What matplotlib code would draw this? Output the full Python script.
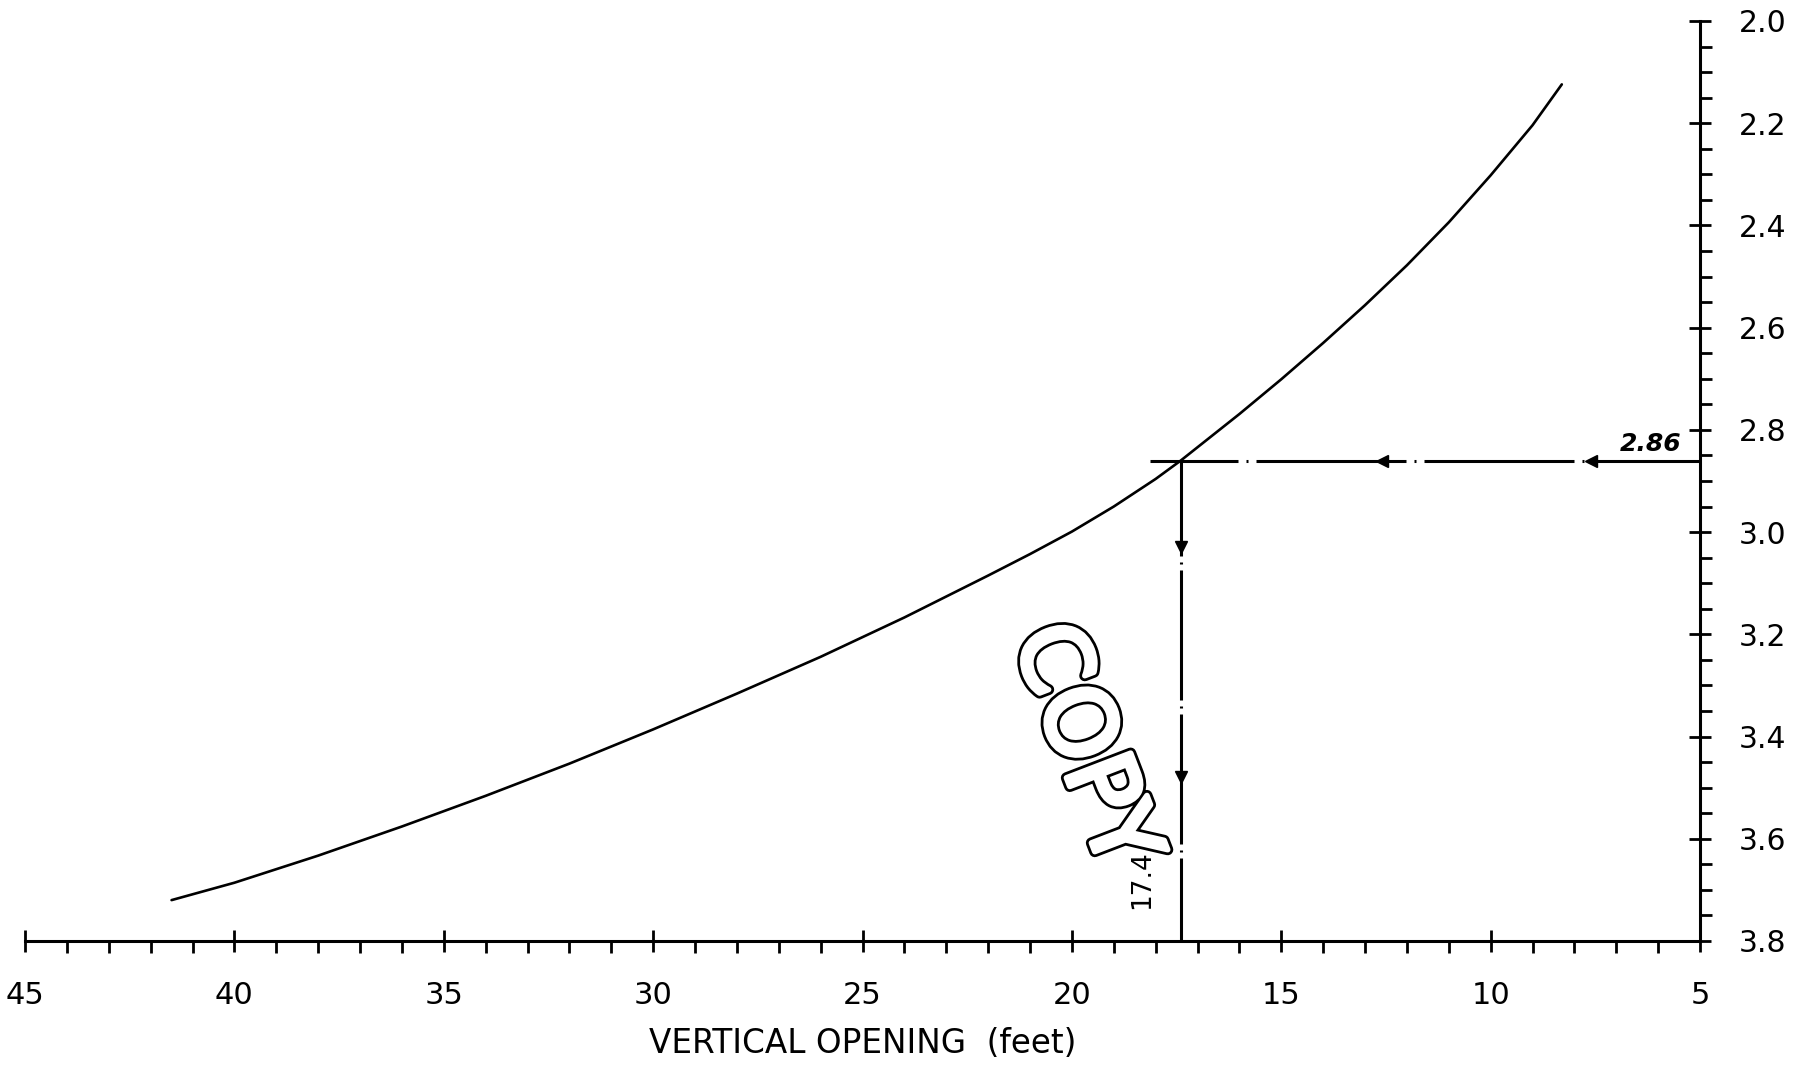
import matplotlib
matplotlib.use("Agg")
import matplotlib.pyplot as plt
from matplotlib.ticker import MultipleLocator, FormatStrFormatter
import matplotlib.patheffects as pe

plt.rcParams["lines.scale_dashes"] = False

# Curve: factor vs. vertical opening
opening_ft = [41.5, 40, 38, 36, 34, 32, 30, 28, 26, 24, 22, 21, 20, 19, 18,
              17.4, 16, 15, 14, 13, 12, 11, 10, 9, 8.3]
factor = [3.720, 3.686, 3.633, 3.576, 3.516, 3.453, 3.386, 3.316, 3.244,
          3.167, 3.085, 3.043, 2.999, 2.950, 2.896, 2.860, 2.769, 2.701,
          2.630, 2.556, 2.478, 2.394, 2.302, 2.204, 2.124]

# Worked example read-off
read_factor = 2.86
read_opening = 17.4
read_factor_label = "2.86"
read_opening_label = "17.4"
h_arrow_x = [12.6, 7.6]
v_arrow_y = [3.03, 3.48]

x_ticks = [45, 40, 35, 30, 25, 20, 15, 10, 5]
y_ticks = [2.0, 2.2, 2.4, 2.6, 2.8, 3.0, 3.2, 3.4, 3.6, 3.8]
x_title = "VERTICAL OPENING  (feet)"
stamp_text = "COPY"

narrow = ["Liberation Sans Narrow", "DejaVu Sans"]

fig = plt.figure(figsize=(18.03, 10.66), dpi=100)
ax = fig.add_axes([25 / 1803, 125 / 1066, 1675 / 1803, 920 / 1066])

ax.set_xlim(x_ticks[0], x_ticks[-1])
ax.set_ylim(y_ticks[-1], y_ticks[0])

for s in ("left", "top"):
    ax.spines[s].set_visible(False)
for s in ("right", "bottom"):
    ax.spines[s].set_linewidth(2.2)

ax.yaxis.tick_right()
ax.xaxis.set_major_locator(MultipleLocator(5))
ax.xaxis.set_minor_locator(MultipleLocator(1))
ax.yaxis.set_major_locator(MultipleLocator(0.2))
ax.yaxis.set_minor_locator(MultipleLocator(0.05))
ax.xaxis.set_major_formatter(FormatStrFormatter("%d"))
ax.yaxis.set_major_formatter(FormatStrFormatter("%.1f"))

ax.tick_params(axis="x", which="major", direction="inout", length=16, width=2,
               pad=21, labelsize=22)
ax.tick_params(axis="x", which="minor", direction="out", length=8.5, width=2)
ax.tick_params(axis="y", which="major", direction="inout", length=16, width=2,
               pad=20, labelsize=21.5, right=True, left=False)
ax.tick_params(axis="y", which="minor", direction="out", length=8.5, width=2,
               right=True, left=False)
for lab in ax.get_xticklabels():
    lab.set_fontfamily(narrow)
for t in ax.xaxis.get_major_ticks() + ax.yaxis.get_major_ticks():
    t.tick1line.set_clip_on(False)
    t.tick2line.set_clip_on(False)

ax.set_xlabel(x_title, fontsize=23.5, family=narrow, labelpad=12)

# Main curve
ax.plot(opening_ft, factor, color="black", lw=1.9, solid_capstyle="round")

# Read-off guide lines (long dash - dot)
pat = (0.72 * 150, 0.72 * 8, 0.72 * 2, 0.72 * 8)
ax.plot([read_opening + 0.73, x_ticks[-1]], [read_factor, read_factor],
        color="black", lw=2.2, linestyle=(0.72 * 62, pat), clip_on=False)
vpat = (0.72 * 130, 0.72 * 6, 0.72 * 2, 0.72 * 6)
ax.plot([read_opening, read_opening], [read_factor, y_ticks[-1]],
        color="black", lw=2.2, linestyle=(0.72 * 35, vpat))

ax.plot(h_arrow_x, [read_factor] * len(h_arrow_x), linestyle="none",
        marker="<", markersize=9, color="black")
ax.plot([read_opening] * len(v_arrow_y), v_arrow_y, linestyle="none",
        marker="v", markersize=9, color="black")

ax.text(5.45, read_factor - 0.008, read_factor_label, ha="right", va="bottom",
        fontsize=18, style="italic", fontweight="bold", family="DejaVu Sans")
ax.text(read_opening + 0.93, 3.68, read_opening_label, rotation=90,
        ha="center", va="center", fontsize=19, family="DejaVu Sans")

# Hollow "COPY" stamp
ax.text(19.75, 3.42, stamp_text, rotation=-69, ha="center", va="center",
        fontsize=68, fontweight="normal", family="DejaVu Sans", color="white",
        path_effects=[pe.Stroke(linewidth=8, foreground="black"),
                      pe.Stroke(linewidth=4, foreground="white"),
                      pe.Normal()])

fig.savefig("out.png", dpi=100)
